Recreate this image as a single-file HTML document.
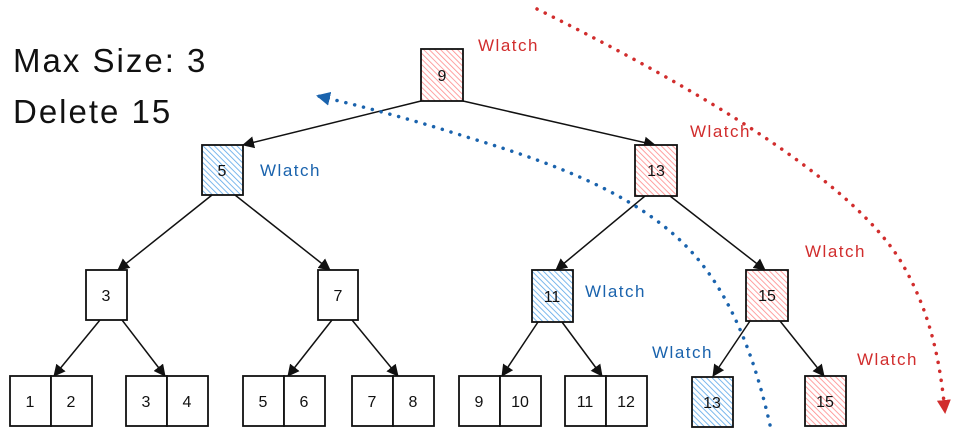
<!DOCTYPE html>
<html><head><meta charset="utf-8"><style>
html,body{margin:0;padding:0;background:#fff;}
svg text{font-family:"Liberation Sans",sans-serif;}
</style></head><body>
<svg width="962" height="439" viewBox="0 0 962 439" xmlns="http://www.w3.org/2000/svg">
<defs>
<pattern id="hr" width="4" height="4" patternUnits="userSpaceOnUse" patternTransform="rotate(-45)">
<rect width="4" height="4" fill="#fff"/><line x1="0" y1="0" x2="0" y2="4" stroke="#ff8a8a" stroke-width="1.6"/></pattern>
<pattern id="hb" width="4" height="4" patternUnits="userSpaceOnUse" patternTransform="rotate(-45)">
<rect width="4" height="4" fill="#fff"/><line x1="0" y1="0" x2="0" y2="4" stroke="#5aa6e8" stroke-width="1.6"/></pattern>
<marker id="ak" markerWidth="12" markerHeight="12" refX="11" refY="6" orient="auto" markerUnits="userSpaceOnUse"><path d="M0,0 L12,6 L0,12 z" fill="#111"/></marker>
<marker id="ar" markerWidth="14" markerHeight="14" refX="12" refY="7" orient="auto" markerUnits="userSpaceOnUse"><path d="M0,0 L14,7 L0,14 z" fill="#d12d2d"/></marker>
<marker id="ab" markerWidth="14" markerHeight="14" refX="12" refY="7" orient="auto" markerUnits="userSpaceOnUse"><path d="M0,0 L14,7 L0,14 z" fill="#1a63ad"/></marker>
</defs>
<g font-size="33" fill="#111" letter-spacing="2">
<text x="13" y="72">Max Size: 3</text>
<text x="13" y="123">Delete 15</text>
</g>
<g stroke="#111" stroke-width="1.5" fill="none" marker-end="url(#ak)">
<line x1="421" y1="101" x2="243" y2="145"/>
<line x1="463" y1="101" x2="655" y2="145"/>
<line x1="212" y1="195" x2="118" y2="270"/>
<line x1="235" y1="195" x2="330" y2="270"/>
<line x1="645" y1="196" x2="556" y2="270"/>
<line x1="670" y1="196" x2="765" y2="270"/>
<line x1="100" y1="320" x2="54" y2="376"/>
<line x1="122" y1="320" x2="165" y2="376"/>
<line x1="332" y1="320" x2="288" y2="376"/>
<line x1="352" y1="320" x2="398" y2="376"/>
<line x1="538" y1="322" x2="502" y2="376"/>
<line x1="562" y1="322" x2="602" y2="376"/>
<line x1="750" y1="321" x2="713" y2="376"/>
<line x1="780" y1="321" x2="824" y2="376"/>
</g>
<g stroke="#111" stroke-width="1.8">
<rect x="421" y="49" width="42" height="52" fill="url(#hr)"/>
<rect x="202" y="145" width="41" height="50" fill="url(#hb)"/>
<rect x="635" y="145" width="42" height="51" fill="url(#hr)"/>
<rect x="86" y="270" width="41" height="50" fill="#fff"/>
<rect x="318" y="270" width="40" height="50" fill="#fff"/>
<rect x="532" y="270" width="41" height="52" fill="url(#hb)"/>
<rect x="746" y="270" width="42" height="51" fill="url(#hr)"/>
<g fill="#fff">
<rect x="10" y="376" width="41" height="50"/><rect x="51" y="376" width="41" height="50"/>
<rect x="126" y="376" width="41" height="50"/><rect x="167" y="376" width="41" height="50"/>
<rect x="243" y="376" width="41" height="50"/><rect x="284" y="376" width="41" height="50"/>
<rect x="352" y="376" width="41" height="50"/><rect x="393" y="376" width="41" height="50"/>
<rect x="459" y="376" width="41" height="50"/><rect x="500" y="376" width="41" height="50"/>
<rect x="565" y="376" width="41" height="50"/><rect x="606" y="376" width="41" height="50"/>
</g>
<rect x="692" y="377" width="41" height="50" fill="url(#hb)"/>
<rect x="805" y="376" width="41" height="50" fill="url(#hr)"/>
</g>
<g font-size="16" fill="#111" text-anchor="middle">
<text x="442" y="81">9</text><text x="222" y="176">5</text><text x="656" y="176">13</text>
<text x="106" y="301">3</text><text x="338" y="301">7</text><text x="552" y="302">11</text><text x="767" y="301">15</text>
<text x="30" y="407">1</text><text x="71" y="407">2</text><text x="146" y="407">3</text><text x="187" y="407">4</text>
<text x="263" y="407">5</text><text x="304" y="407">6</text><text x="372" y="407">7</text><text x="413" y="407">8</text>
<text x="479" y="407">9</text><text x="520" y="407">10</text><text x="585" y="407">11</text><text x="626" y="407">12</text>
<text x="712" y="408">13</text><text x="825" y="407">15</text>
</g>
<g font-size="17" letter-spacing="1.5">
<text x="478" y="51" fill="#d12d2d">Wlatch</text>
<text x="690" y="137" fill="#d12d2d">Wlatch</text>
<text x="260" y="176" fill="#1a63ad">Wlatch</text>
<text x="585" y="297" fill="#1a63ad">Wlatch</text>
<text x="805" y="257" fill="#d12d2d">Wlatch</text>
<text x="652" y="358" fill="#1a63ad">Wlatch</text>
<text x="857" y="365" fill="#d12d2d">Wlatch</text>
</g>
<path d="M770,425 C752,345 725,285 685,245 C635,195 560,165 470,138 C420,122 370,108 318,96" fill="none" stroke="#1a63ad" stroke-width="3.5" stroke-linecap="round" stroke-dasharray="0.1 9" marker-end="url(#ab)"/>
<path d="M537,9 C700,90 850,180 900,260 C930,310 940,360 945,412" fill="none" stroke="#d12d2d" stroke-width="3.5" stroke-linecap="round" stroke-dasharray="0.1 9" marker-end="url(#ar)"/>
</svg>
</body></html>
